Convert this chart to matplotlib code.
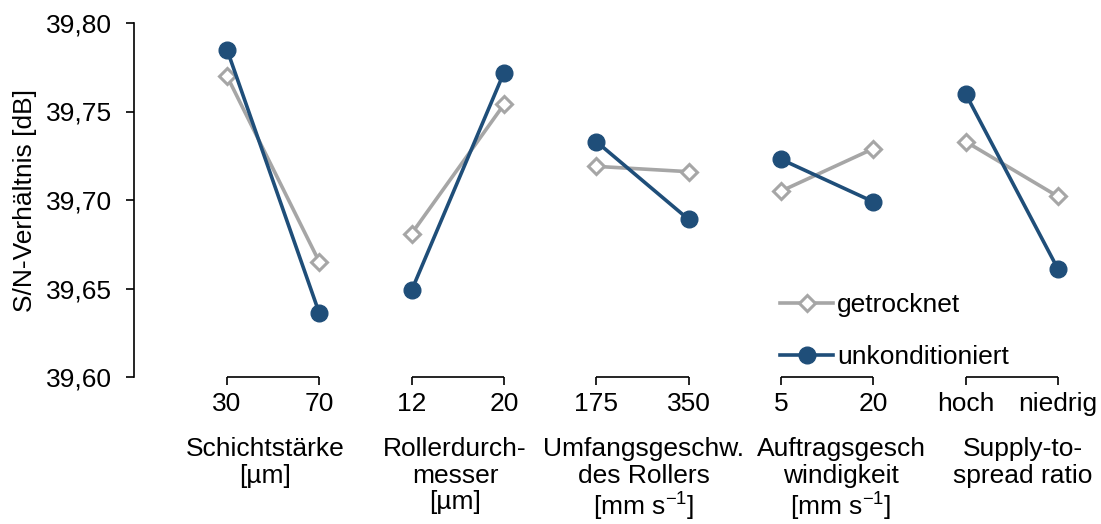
import matplotlib
matplotlib.use("Agg")
import matplotlib.pyplot as plt
from matplotlib.lines import Line2D

plt.rcParams["font.family"] = ["Liberation Sans", "DejaVu Sans"]
plt.rcParams["mathtext.fontset"] = "custom"
plt.rcParams["mathtext.rm"] = "Liberation Sans"
plt.rcParams["mathtext.it"] = "Liberation Sans"

# Factors and their two levels
factors = [
    "Schichtstärke\n[µm]",
    "Rollerdurch-\nmesser\n[µm]",
    "Umfangsgeschw.\ndes Rollers\n[mm s$^{-1}$]",
    "Auftragsgesch\nwindigkeit\n[mm s$^{-1}$]",
    "Supply-to-\nspread ratio",
]
levels = ["30", "70", "12", "20", "175", "350", "5", "20", "hoch", "niedrig"]

# Mean S/N ratio per factor level
getrocknet = [39.770, 39.665, 39.681, 39.754, 39.719, 39.716, 39.705, 39.729, 39.733, 39.702]
unkonditioniert = [39.785, 39.636, 39.649, 39.772, 39.733, 39.689, 39.723, 39.699, 39.760, 39.661]

# horizontal nudge (points) of each factor caption relative to its bracket centre
caption_dx = [-6, -2, 1, 10, 8]

grey = "#A6A6A6"
blue = "#1F4E79"
fs = 19

fig = plt.figure(figsize=(11.01, 5.24), dpi=100)
ax = fig.add_axes([134 / 1101, 147 / 524, (1085 - 134) / 1101, 354 / 524])

ymin, ymax = 39.60, 39.80
ax.set_ylim(ymin, ymax)
x0 = (134 - 227) / 92.33
x1 = (1085 - 227) / 92.33
ax.set_xlim(x0, x1)

for g in range(len(factors)):
    xs = [2 * g, 2 * g + 1]
    ax.plot(xs, getrocknet[2 * g:2 * g + 2], color=grey, lw=2.6, marker="D",
            ms=8, mfc="white", mec=grey, mew=2.2, zorder=3, clip_on=False)
    ax.plot(xs, unkonditioniert[2 * g:2 * g + 2], color=blue, lw=2.6, marker="o",
            ms=12, mfc=blue, mec=blue, zorder=4, clip_on=False)
    # bracket-style axis segment per factor
    ax.plot(xs, [ymin, ymin], color="black", lw=1.2, clip_on=False, zorder=2,
            solid_capstyle="butt")
    ax.annotate(factors[g], xy=(g * 2 + 0.5, 0), xycoords=("data", "axes fraction"),
                xytext=(caption_dx[g], -43.5), textcoords="offset points",
                ha="center", va="top", fontsize=fs, linespacing=1.12)

ax.set_xticks(range(len(levels)))
ax.set_xticklabels(levels, fontsize=fs)
ax.set_yticks([39.60, 39.65, 39.70, 39.75, 39.80])
ax.set_yticklabels(["39,60", "39,65", "39,70", "39,75", "39,80"], fontsize=fs)
ax.tick_params(axis="x", direction="out", length=6, width=1.2, pad=5)
ax.tick_params(axis="y", direction="out", length=6, width=1.2, pad=10)

for s in ["top", "right", "bottom"]:
    ax.spines[s].set_visible(False)
ax.spines["left"].set_linewidth(1.2)

ax.set_ylabel("S/N-Verhältnis [dB]", fontsize=fs, labelpad=6)

handles = [
    Line2D([], [], color=grey, lw=2.6, marker="D", ms=8, mfc="white", mec=grey, mew=2.2),
    Line2D([], [], color=blue, lw=2.6, marker="o", ms=12, mfc=blue, mec=blue),
]
fig.legend(handles, ["getrocknet", "unkonditioniert"], loc="upper left",
           bbox_to_anchor=(767 / 1101, 1 - 280 / 524), frameon=False, fontsize=fs,
           handlelength=2.0, handletextpad=0.15, labelspacing=1.05, borderpad=0)

fig.savefig("out.png", dpi=100)
